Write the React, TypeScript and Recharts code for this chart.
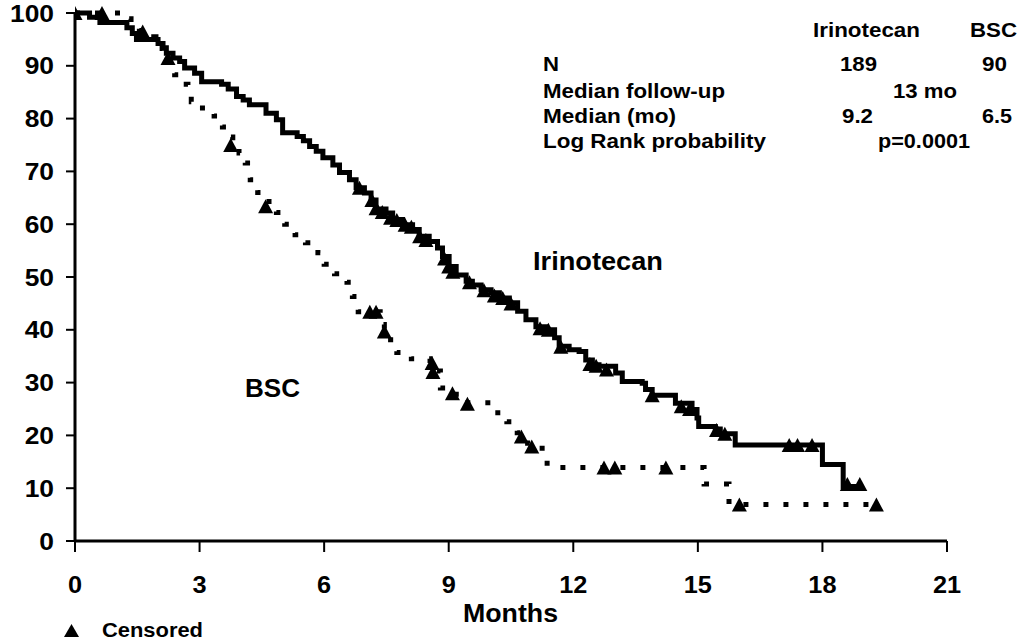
import { ComposedChart, Line, Scatter, XAxis, YAxis } from 'recharts';

// Kaplan-Meier steps (months, % surviving)
const irinotecanTime = [0, 0.35, 0.6, 1.25, 1.38, 1.48, 2.0, 2.12, 2.2, 2.36, 2.52, 2.64, 2.88, 3.05, 3.53, 3.69, 3.89, 4.05, 4.2, 4.6, 4.85, 5.0, 5.35, 5.5, 5.65, 5.81, 5.97, 6.21, 6.37, 6.61, 6.77, 6.97, 7.13, 7.25, 7.49, 7.65, 7.89, 8.13, 8.29, 8.53, 8.73, 8.85, 9.01, 9.18, 9.42, 9.57, 9.78, 10.02, 10.22, 10.46, 10.66, 10.86, 11.1, 11.34, 11.55, 11.66, 11.9, 12.14, 12.3, 12.46, 12.62, 13.02, 13.18, 13.66, 13.74, 13.9, 14.46, 14.86, 14.98, 15.02, 15.42, 15.54, 15.9, 18.0, 18.5, 18.95];
const irinotecanSurv = [100, 99.2, 98.2, 97.2, 96.1, 95, 94.2, 93.4, 92.4, 91.5, 90.8, 89.6, 88.6, 87, 86.5, 85.6, 84.2, 83.5, 82.6, 81, 79.8, 77.3, 76.6, 75.8, 74.7, 73.8, 72.6, 71.2, 69.8, 68.4, 66.9, 65.9, 64.6, 62.9, 62.1, 60.9, 59.9, 59, 57.7, 56.7, 55.5, 53.9, 52, 50.4, 49.2, 48.5, 47.6, 47, 46, 45.1, 43.5, 41.9, 40.6, 40, 38.5, 36.9, 36.2, 35.9, 34.3, 33.4, 33.1, 31.8, 30.2, 29.9, 28.7, 27.6, 26.1, 24.9, 23.3, 21.7, 21.2, 20.3, 18.2, 14.5, 10.3, 10.3];

const bscTime = [0, 1.1, 1.35, 1.55, 1.8, 1.95, 2.1, 2.3, 2.4, 2.6, 2.72, 2.8, 3.0, 3.35, 3.55, 3.7, 3.8, 3.95, 4.1, 4.22, 4.4, 4.55, 4.85, 5.05, 5.3, 5.55, 5.85, 6.0, 6.25, 6.55, 6.68, 6.82, 7.35, 7.45, 7.6, 7.75, 8.1, 8.55, 8.8, 9.05, 9.35, 10.1, 10.4, 10.65, 10.9, 11.25, 11.37, 15.15, 15.75, 19.3];
const bscSurv = [100, 98.9, 97.8, 96.7, 95.5, 93.3, 92.2, 90, 88.3, 86.5, 84.4, 83.2, 82, 80.5, 78.4, 76.5, 74.5, 73.5, 71.6, 68.4, 66, 64.3, 62.2, 60, 58, 56.5, 54.6, 52.4, 50.6, 49, 46.3, 43.4, 41, 39.7, 38.1, 35.7, 34.5, 32.2, 29, 27.8, 26.2, 24.3, 22.6, 20.5, 18.5, 16.5, 13.9, 10.8, 6.9, 6.9];

// censored observations
const irinotecanCensTime = [0, 2.24, 6.85, 7.15, 7.25, 7.4, 7.6, 7.75, 7.95, 8.1, 8.3, 8.45, 8.9, 9.0, 9.1, 9.5, 9.85, 10.1, 10.3, 10.5, 11.2, 11.4, 11.7, 12.4, 12.55, 12.8, 13.9, 14.6, 14.8, 15.45, 15.65, 17.2, 17.4, 17.75, 18.6, 18.9];
const irinotecanCensSurv = [100, 91.5, 66.9, 64.6, 63, 62.3, 61.2, 60.8, 59.9, 59.5, 57.7, 57, 53.5, 52, 51, 49, 47.5, 46.5, 46, 45, 40.3, 40, 36.8, 33.5, 33.2, 32.5, 27.6, 25.5, 25, 21, 20.3, 18.2, 18.2, 18.2, 10.8, 10.8];
const bscCensTime = [0.65, 1.63, 3.75, 4.59, 7.1, 7.25, 7.45, 8.6, 8.62, 9.09, 9.45, 10.75, 11.0, 12.74, 13.0, 14.23, 16.0, 19.3];
const bscCensSurv = [100, 96.5, 75, 63.4, 43.4, 43.4, 39.7, 33.7, 32, 28, 26, 19.8, 17.9, 13.9, 13.9, 13.9, 6.9, 6.9];

const xTicks = [0, 3, 6, 9, 12, 15, 18, 21];
const yTicks = [0, 10, 20, 30, 40, 50, 60, 70, 80, 90, 100];

const zip = (t: number[], s: number[]) => t.map((m, i) => ({ m, v: s[i] }));
const irinotecanData = zip(irinotecanTime, irinotecanSurv);
const bscData = zip(bscTime, bscSurv);
const irinotecanCens = zip(irinotecanCensTime, irinotecanCensSurv);
const bscCens = zip(bscCensTime, bscCensSurv);

const FONT = '"Liberation Sans", Arial, sans-serif';
const STRETCH = 1.1; // the original is a bit wider than tall

const Triangle = (props: any) => {
  const { cx, cy } = props;
  return <polygon points={`${cx - 7.5},${cy + 7} ${cx + 7.5},${cy + 7} ${cx},${cy - 7}`} fill="#000" />;
};

const YTick = ({ x, y, payload }: any) => (
  <g transform={`translate(${x},${y})`}>
    <text transform={`scale(${STRETCH},1)`} textAnchor="end" dy="0.36em" fontSize={24} fontWeight="bold" fontFamily={FONT} fill="#000">
      {payload.value}
    </text>
  </g>
);

const XTick = ({ x, y, payload }: any) => (
  <g transform={`translate(${x},${y})`}>
    <text transform={`scale(${STRETCH},1)`} textAnchor="middle" dy="0.71em" fontSize={23} fontWeight="bold" fontFamily={FONT} fill="#000">
      {payload.value}
    </text>
  </g>
);

function Txt({ x, y, w, size, children, anchor }: any) {
  return (
    <text x={x} y={y} fontSize={size} fontWeight="bold" fontFamily={FONT} fill="#000" textLength={w} lengthAdjust="spacingAndGlyphs" textAnchor={anchor || 'start'}>
      {children}
    </text>
  );
}

export default function App() {
  return (
    <div style={{ position: 'absolute', left: 0, top: 0, width: 1021, height: 643, background: '#fff' }}>
      <ComposedChart width={1021} height={643} margin={{ top: 13, right: 74, bottom: 0, left: 0 }}>
        <XAxis
          dataKey="m"
          type="number"
          domain={[0, 21]}
          ticks={xTicks}
          allowDataOverflow
          height={102}
          axisLine={{ stroke: '#000', strokeWidth: 3 }}
          tickLine={{ stroke: '#000', strokeWidth: 2 }}
          tickSize={11}
          tickMargin={25}
          tick={<XTick />}
        />
        <YAxis
          dataKey="v"
          type="number"
          domain={[0, 100]}
          ticks={yTicks}
          width={75}
          axisLine={{ stroke: '#000', strokeWidth: 3 }}
          tickLine={{ stroke: '#000', strokeWidth: 2 }}
          tickSize={9}
          tickMargin={12}
          tick={<YTick />}
        />
        <Line data={bscData} dataKey="v" type="stepAfter" stroke="#000" strokeWidth={5} strokeDasharray="5 15" dot={false} isAnimationActive={false} />
        <Line data={irinotecanData} dataKey="v" type="stepAfter" stroke="#000" strokeWidth={5} dot={false} isAnimationActive={false} />
        <Scatter data={irinotecanCens} dataKey="v" shape={Triangle} isAnimationActive={false} />
        <Scatter data={bscCens} dataKey="v" shape={Triangle} isAnimationActive={false} />
      </ComposedChart>

      <svg width={1021} height={643} style={{ position: 'absolute', left: 0, top: 0, pointerEvents: 'none' }}>
        {/* summary table */}
        <Txt x={813} y={37} w={107} size={20}>Irinotecan</Txt>
        <Txt x={970} y={37} w={47} size={20}>BSC</Txt>
        <Txt x={543} y={71} w={16} size={20}>N</Txt>
        <Txt x={840} y={71} w={37} size={20}>189</Txt>
        <Txt x={982} y={71} w={25} size={20}>90</Txt>
        <Txt x={543} y={97.5} w={182} size={20}>Median follow-up</Txt>
        <Txt x={893} y={97.5} w={64} size={20}>13 mo</Txt>
        <Txt x={543} y={123} w={133} size={20}>Median (mo)</Txt>
        <Txt x={842} y={123} w={31} size={20}>9.2</Txt>
        <Txt x={982} y={123} w={30} size={20}>6.5</Txt>
        <Txt x={543} y={148} w={223} size={20}>Log Rank probability</Txt>
        <Txt x={878} y={148} w={92} size={20}>p=0.0001</Txt>

        {/* curve labels */}
        <Txt x={533} y={270} w={130} size={25}>Irinotecan</Txt>
        <Txt x={245} y={397} w={55} size={25}>BSC</Txt>

        {/* axis title */}
        <Txt x={463} y={622} w={95} size={26}>Months</Txt>

        {/* censored key */}
        <polygon points="64,637 79,637 71.5,624" fill="#000" />
        <Txt x={102} y={637} w={101} size={20}>Censored</Txt>
      </svg>
    </div>
  );
}
